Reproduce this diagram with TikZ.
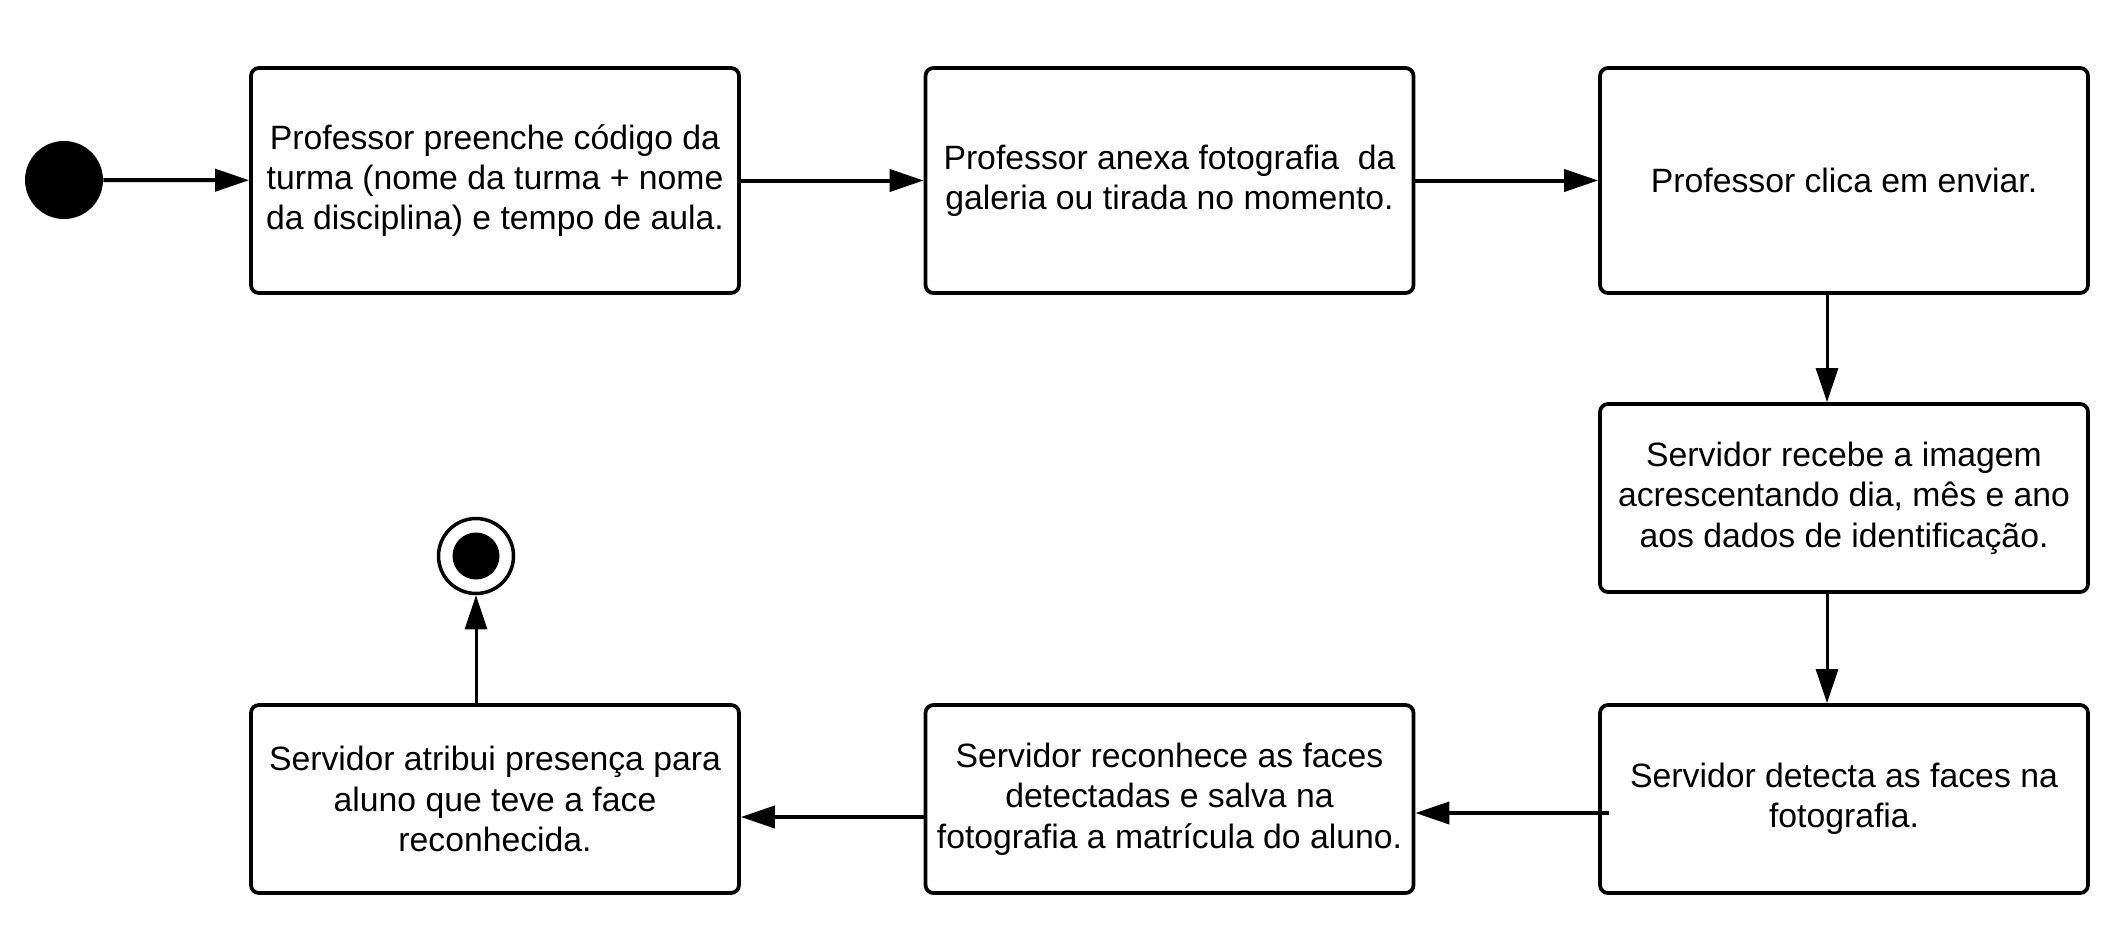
\documentclass[tikz,border=0pt]{standalone}
\usepackage{fontspec}
\setmainfont{Liberation Sans}
\usetikzlibrary{arrows.meta}

\tikzset{
  acao/.style={draw, line width=0.075cm, rounded corners=0.16cm,
    minimum width=9.76cm, minimum height=3.76cm, inner sep=0pt,
    align=center, font=\fontsize{19.2}{23}\selectfont},
  seta/.style={line width=0.08cm, -{Triangle[length=0.68cm,width=0.44cm]}}
}

\begin{document}
\begin{tikzpicture}
\useasboundingbox (0,0) rectangle (42.5,-18.62);

% atividades
\node[acao, minimum height=4.5cm] (a1) at (9.9,-3.61) {Professor preenche código da\\turma (nome da turma + nome\\da disciplina) e tempo de aula.};
\node[acao, minimum height=4.5cm] (a2) at (23.39,-3.61) {Professor anexa fotografia\ \ da\\galeria ou tirada no momento.};
\node[acao, minimum height=4.5cm] (a3) at (36.88,-3.61) {Professor clica em enviar.};
\node[acao] (a4) at (36.88,-9.96) {Servidor recebe a imagem\\acrescentando dia, mês e ano\\aos dados de identificação.};
\node[acao] (a5) at (36.88,-15.98) {Servidor detecta as faces na\\fotografia.};
\node[acao] (a6) at (23.39,-15.98) {Servidor reconhece as faces\\detectadas e salva na\\fotografia a matrícula do aluno.};
\node[acao] (a7) at (9.9,-15.98) {Servidor atribui presença para\\aluno que teve a face\\reconhecida.};

% inicio e fim
\node[circle, fill=black, minimum size=1.56cm, inner sep=0pt] (ini) at (1.28,-3.6) {};
\node[circle, draw, line width=0.07cm, minimum size=1.5cm, inner sep=0pt] (fim) at (9.52,-11.12) {};
\node[circle, fill=black, minimum size=0.94cm, inner sep=0pt] (fimc) at (fim) {};

\draw[seta] (ini) -- (a1);
\draw[seta] (a1) -- (a2);
\draw[seta] (a2) -- (a3);
\draw[seta, line width=0.06cm] ([xshift=-0.34cm]a3.south) -- ([xshift=-0.34cm]a4.north);
\draw[seta, line width=0.06cm] ([xshift=-0.34cm]a4.south) -- ([xshift=-0.34cm]a5.north);
\draw[seta] ([xshift=0.22cm,yshift=-0.28cm]a5.west) -- ([yshift=-0.28cm]a6.east);
\draw[seta] ([yshift=-0.36cm]a6.west) -- ([yshift=-0.36cm]a7.east);
\draw[seta, line width=0.06cm] (fim |- a7.north) -- (fim.south);
\end{tikzpicture}
\end{document}
